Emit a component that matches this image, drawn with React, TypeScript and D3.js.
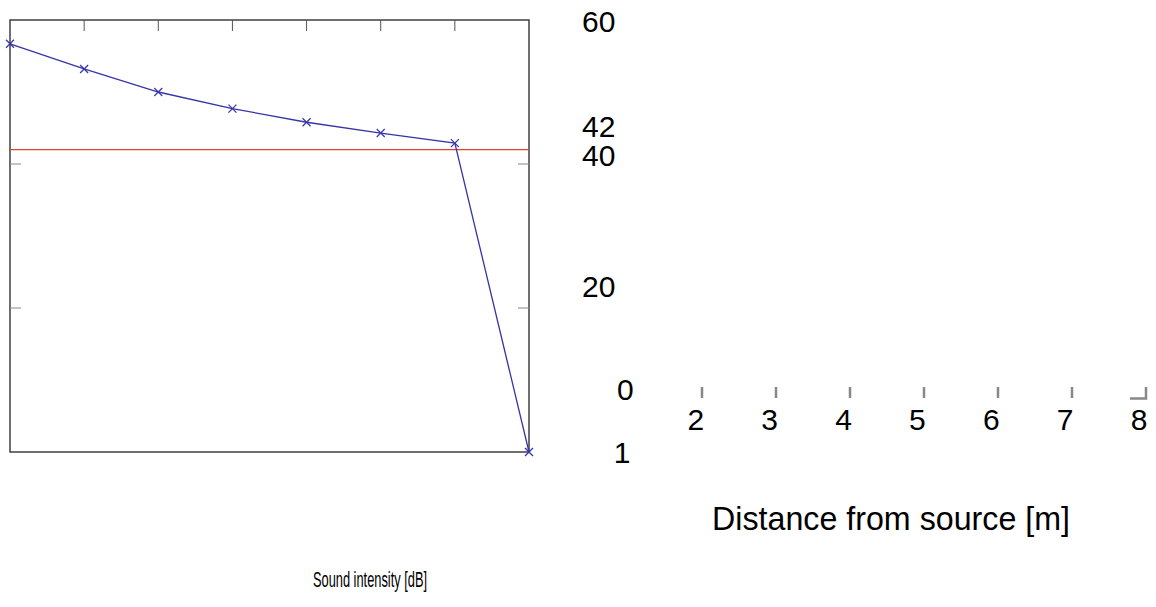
import React from "react";
import * as d3 from "d3";

const distances = [1, 2, 3, 4, 5, 6, 7, 8];
const intensity = [56.7, 53.2, 50.0, 47.7, 45.8, 44.3, 42.9, 0];
const threshold = 42;
const yTickLabels = [60, 42, 40, 20, 0];
const xTickLabels = [1, 2, 3, 4, 5, 6, 7, 8];
const innerYTicks = [20, 40];
const innerXTicks = [2, 3, 4, 5, 6, 7];
const xTitle = "Distance from source [m]";
const yTitle = "Sound intensity [dB]";

export default function App() {
  const W = 1156, H = 607;
  const x = d3.scaleLinear().domain([1, 8]).range([10, 529]);
  const y = d3.scaleLinear().domain([0, 60]).range([452, 20]);
  // displaced tick label positions (piecewise scales)
  const yLab = d3.scaleLinear().domain([0, 20, 40, 42, 60]).range([400, 297, 166, 137, 32]);
  const xLab = d3.scaleLinear().domain([1, 8]).range([622, 1139]);
  const xTickMark = d3.scaleLinear().domain([2, 8]).range([702, 1146]);

  const line = d3.line<number>().x((_, i) => x(distances[i])).y((d) => y(d));
  const ms = 4;
  const blue = "#3535a8";

  return (
    <svg width={W} height={H} style={{ position: "absolute", left: 0, top: 0, background: "#fff" }}
      fontFamily="'Liberation Sans', Arial, sans-serif">
      {/* plot box */}
      <rect x={x(1)} y={y(60)} width={x(8) - x(1)} height={y(0) - y(60)} fill="none" stroke="#333" strokeWidth={1.4} />
      {innerXTicks.map((t) => (
        <line key={"tx" + t} x1={x(t)} x2={x(t)} y1={y(60)} y2={y(60) + 11} stroke="#555" strokeWidth={1} />
      ))}
      {innerYTicks.map((t) => (
        <g key={"ty" + t}>
          <line x1={x(1)} x2={x(1) + 11} y1={y(t)} y2={y(t)} stroke="#888" strokeWidth={1} />
          <line x1={x(8) - 11} x2={x(8)} y1={y(t)} y2={y(t)} stroke="#888" strokeWidth={1} />
        </g>
      ))}
      {/* threshold */}
      <line x1={x(1)} x2={x(8)} y1={y(threshold)} y2={y(threshold)} stroke="#d9442b" strokeWidth={1.3} />
      {/* series */}
      <path d={line(intensity) || ""} fill="none" stroke={blue} strokeWidth={1.3} />
      {intensity.map((v, i) => (
        <g key={"m" + i} stroke={blue} strokeWidth={1.2}>
          <line x1={x(distances[i]) - ms} x2={x(distances[i]) + ms} y1={y(v) - ms} y2={y(v) + ms} />
          <line x1={x(distances[i]) - ms} x2={x(distances[i]) + ms} y1={y(v) + ms} y2={y(v) - ms} />
        </g>
      ))}
      {/* displaced y tick labels */}
      {yTickLabels.map((t) => (
        <text key={"yl" + t} x={t === 0 ? 617 : 582} y={yLab(t)} fontSize={30} fill="#000">{t}</text>
      ))}
      {/* displaced x tick marks */}
      {xTickLabels.filter((t) => t >= 2 && t <= 7).map((t) => (
        <line key={"xm" + t} x1={xTickMark(t)} x2={xTickMark(t)} y1={387} y2={398} stroke="#888" strokeWidth={2.5} />
      ))}
      <path d={`M${xTickMark(8) - 16},${398.5} H${xTickMark(8)} V${387}`} fill="none" stroke="#888" strokeWidth={2.5} />
      {xTickLabels.map((t) => (
        <text key={"xl" + t} x={xLab(t)} y={t === 1 ? 463 : 430} fontSize={30} textAnchor="middle" fill="#000">{t}</text>
      ))}
      {/* titles */}
      <text x={712} y={530} fontSize={34} textLength={358} lengthAdjust="spacingAndGlyphs" fill="#000">{xTitle}</text>
      <text x={313} y={587} fontSize={22} textLength={114} lengthAdjust="spacingAndGlyphs" fill="#000">{yTitle}</text>
    </svg>
  );
}
